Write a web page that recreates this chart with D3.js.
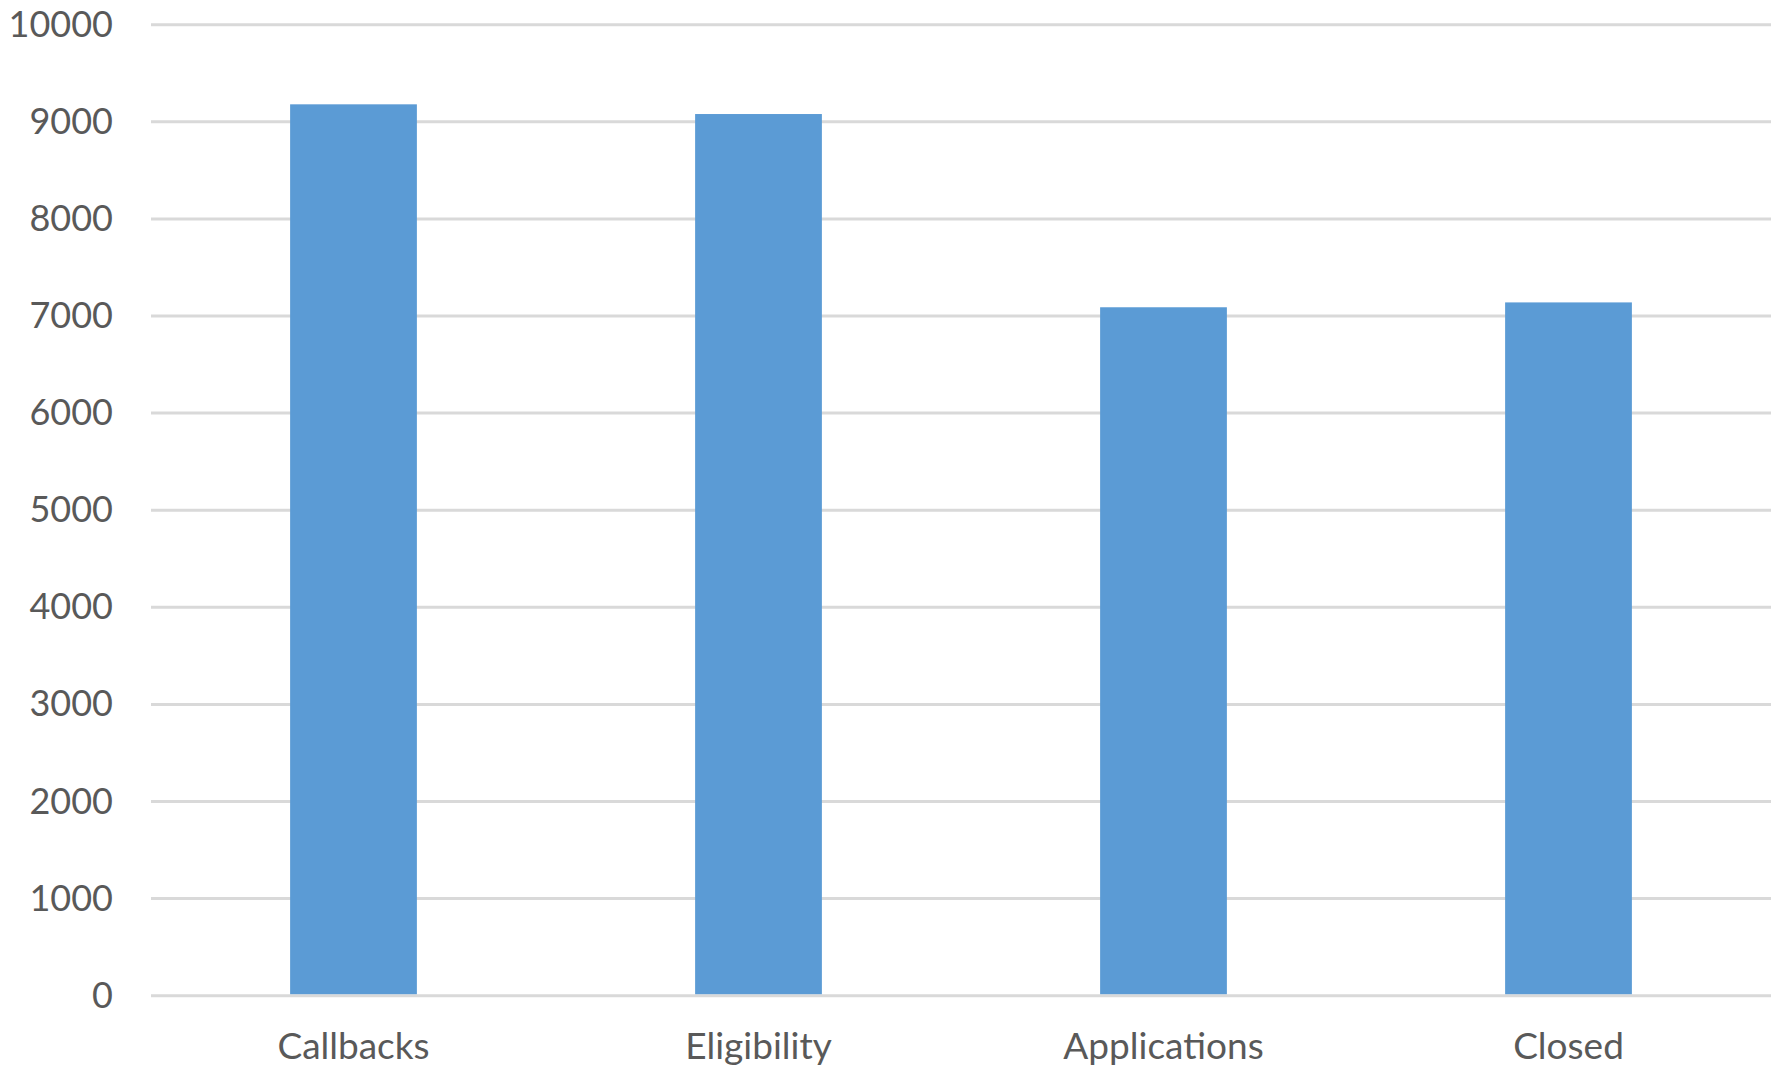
<!DOCTYPE html>
<html>
<head>
<meta charset="utf-8">
<script src="https://cdn.jsdelivr.net/npm/d3@7"></script>
<style>
  html, body { margin: 0; padding: 0; background: #fff; }
  svg { display: block; }
  text { font-family: Lato, "Open Sans", sans-serif; fill: #595959; }
</style>
</head>
<body>
<svg id="chart" width="1777" height="1069"></svg>
<script>
const categories = ["Callbacks", "Eligibility", "Applications", "Closed"];
const values = [9180, 9080, 7090, 7140];
const yTicks = [0, 1000, 2000, 3000, 4000, 5000, 6000, 7000, 8000, 9000, 10000];

const W = 1777, H = 1069;
const margin = { left: 151, right: 6, top: 24.7, bottom: 73.3 };
const svg = d3.select("#chart");

const x = d3.scaleBand()
  .domain(categories)
  .range([margin.left, W - margin.right])
  .paddingInner(0.687)
  .paddingOuter(0.3435);

const y = d3.scaleLinear()
  .domain([0, 10000])
  .range([H - margin.bottom, margin.top]);

// gridlines
svg.append("g")
  .selectAll("line")
  .data(yTicks)
  .join("line")
  .attr("x1", margin.left)
  .attr("x2", W - margin.right)
  .attr("y1", d => y(d))
  .attr("y2", d => y(d))
  .attr("stroke", "#d9d9d9")
  .attr("stroke-width", 3);

// bars
svg.append("g")
  .selectAll("rect")
  .data(categories)
  .join("rect")
  .attr("x", d => x(d))
  .attr("width", x.bandwidth())
  .attr("y", (d, i) => y(values[i]))
  .attr("height", (d, i) => y(0) - 1.5 - y(values[i]))
  .attr("fill", "#5b9bd5");

// y axis labels
const yAxis = d3.axisLeft(y).tickValues(yTicks).tickSize(0).tickPadding(0).tickFormat(d3.format("d"));
const gy = svg.append("g")
  .attr("transform", `translate(113,0)`)
  .call(yAxis);
gy.select(".domain").remove();
gy.selectAll("text")
  .attr("font-size", 36)
  .attr("fill", "#595959")
  .attr("font-family", "Lato, 'Open Sans', sans-serif");

// x axis labels
const xAxis = d3.axisBottom(x).tickSize(0).tickPadding(0);
const gx = svg.append("g")
  .attr("transform", `translate(0,${H - margin.bottom})`)
  .call(xAxis);
gx.select(".domain").remove();
gx.selectAll("text")
  .attr("font-size", 37)
  .attr("fill", "#595959")
  .attr("font-family", "Lato, 'Open Sans', sans-serif")
  .attr("dy", null)
  .attr("y", 63);
</script>
</body>
</html>
